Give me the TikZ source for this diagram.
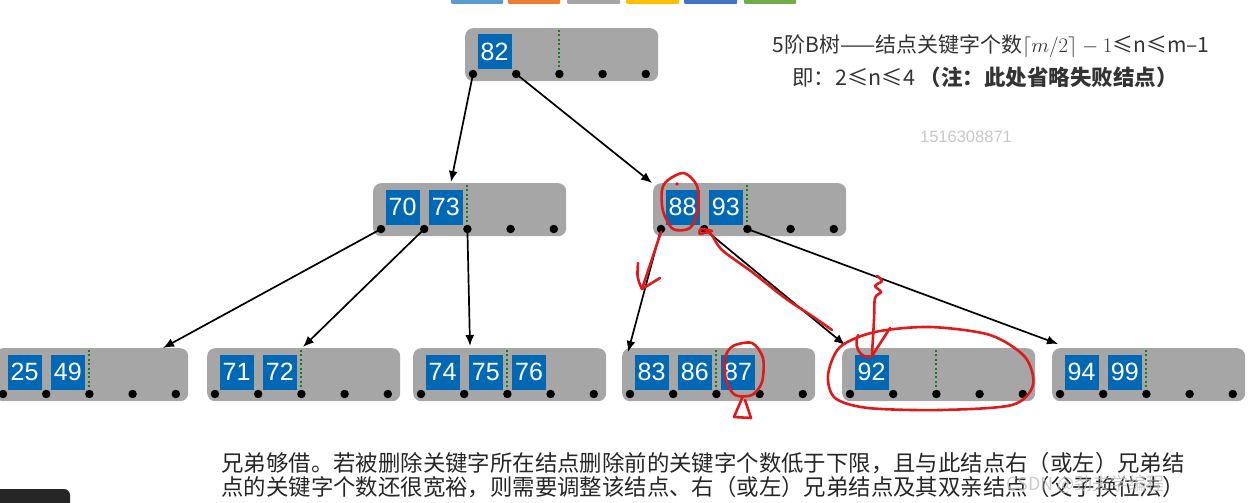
\documentclass[tikz,border=0pt]{standalone}
\usepackage{fontspec}
\usepackage{tikz}
\usetikzlibrary{positioning,arrows.meta,calc}
\newfontfamily\cjk{Noto Sans CJK SC}
\newfontfamily\keysf{Liberation Sans}
\definecolor{nodegray}{RGB}{166,166,166}
\definecolor{keyblue}{RGB}{0,104,180}
\definecolor{mingreen}{RGB}{20,128,20}
\definecolor{inkred}{RGB}{224,26,26}
\definecolor{textgrey}{RGB}{51,51,51}
\definecolor{wmgrey}{RGB}{200,200,200}
\definecolor{tabblue}{RGB}{91,155,213}
\definecolor{taborange}{RGB}{237,125,49}
\definecolor{tabgray}{RGB}{165,165,165}
\definecolor{tabgold}{RGB}{255,192,0}
\definecolor{tabnavy}{RGB}{68,114,196}
\definecolor{tabgreen}{RGB}{112,173,71}
\tikzset{
  gnode/.style ={rectangle, fill=nodegray, rounded corners=8pt, inner sep=0pt,
                 minimum width=193pt, minimum height=53pt},
  keybox/.style={rectangle, fill=keyblue, text=white, inner sep=0pt,
                 minimum width=34pt, minimum height=35pt,
                 font=\keysf\fontsize{25}{25}\selectfont},
  ptr/.style   ={circle, fill=black, inner sep=0pt, minimum size=8.5pt},
  mindiv/.style={draw=mingreen, line width=2pt, dash pattern=on 2pt off 2.4pt},
  ar/.style    ={-{Latex[length=11pt,width=9pt]}, line width=1.7pt},
  redpen/.style={draw=inkred, line width=2.6pt, line cap=round, line join=round},
  tab/.style   ={rounded corners=1pt},
}
% one B-tree node: name, left, top, keys
\newcommand{\btnode}[4]{%
  \node[gnode,anchor=north west] (#1) at (#2,#3) {};
  \draw[mindiv] ($(#1.north west)+(94.4,2)$) -- ($(#1.north west)+(94.4,46)$);
  \foreach \k [count=\i from 0] in {#4}
    \node[keybox] (#1-k\i) at ($(#1.north west)+({29.6+43.2*\i},24)$) {\k};
  \foreach \i in {0,...,4}
    \node[ptr] (#1-p\i) at ($(#1.north west)+({8+43.2*\i},46)$) {};
}
\begin{document}
\begin{tikzpicture}[x=1pt,y=-1pt]
\useasboundingbox (0,0) rectangle (1248,503);
\clip (0,0) rectangle (1248,503);

% colour tabs cut at the top
\fill[tab,tabblue]   (451,-3) rectangle (503,4);
\fill[tab,taborange] (508,-3) rectangle (560,4);
\fill[tab,tabgray]   (567,-3) rectangle (620,4);
\fill[tab,tabgold]   (626,-3) rectangle (679,4);
\fill[tab,tabnavy]   (684,-3) rectangle (737,4);
\fill[tab,tabgreen]  (744,-3) rectangle (796,4);

% the tree
\btnode{n82}{465}{28}{82}
\btnode{n7073}{373}{183}{70,73}
\btnode{n8893}{653}{183}{88,93}
\btnode{n2549}{-5}{348}{25,49}
\btnode{n7172}{207}{348}{71,72}
\btnode{n747576}{413}{348}{74,75,76}
\btnode{n838687}{622}{348}{83,86,87}
\btnode{n92}{842}{348}{92}
\btnode{n9499}{1052}{348}{94,99}

\coordinate (t7073) at ($(n7073.north west)+(78,-1)$);
\coordinate (t8893) at ($(n8893.north west)+(-1,0)$);
\coordinate (t2549) at ($(n2549.north west)+(168,0)$);
\coordinate (t7172) at ($(n7172.north west)+(96,-1)$);
\coordinate (t747576) at ($(n747576.north west)+(57,-2)$);
\coordinate (t838687) at ($(n838687.north west)+(6,4)$);
\coordinate (t92) at ($(n92.north west)+(3,-3)$);
\coordinate (t9499) at ($(n9499.north west)+(6,-4)$);

\draw[ar] (n82-p0.center) -- (t7073);
\draw[ar] (n82-p1.center) -- (t8893);
\draw[ar] (n7073-p0.center) -- (t2549);
\draw[ar] (n7073-p1.center) -- (t7172);
\draw[ar] (n7073-p2.center) -- (t747576);
\draw[ar] (n8893-p0.center) -- (t838687);
\draw[ar] (n8893-p1.center) -- (t92);
\draw[ar] (n8893-p2.center) -- (t9499);

% rule text
\node[text=textgrey,font=\cjk\fontsize{21}{21}\selectfont] (rule1) at (991,46)
  {5阶B树——结点关键字个数$\lceil m/2\rceil - 1$≤n≤m–1};
\node[text=textgrey,font=\cjk\fontsize{21.5}{21.5}\selectfont] (rule2) at (985,77)
  {即：2≤n≤4 \textbf{（注：此处省略失败结点）}};
\node[text=wmgrey,font=\keysf\fontsize{16.5}{16.5}\selectfont] (wm1) at (966,137) {1516308871};

% caption below
\node[anchor=west,text=black!85,font=\cjk\fontsize{22.4}{22.4}\selectfont] (cap1) at (218,463)
  {兄弟够借。若被删除关键字所在结点删除前的关键字个数低于下限，且与此结点右（或左）兄弟结};
\node[anchor=west,text=black!85,font=\cjk\fontsize{22.4}{22.4}\selectfont] (cap2) at (218,487)
  {点的关键字个数还很宽裕，则需要调整该结点、右（或左）兄弟结点及其双亲结点（父子换位法）};
\node[anchor=west,text=gray!50,opacity=0.8,font=\cjk\fontsize{18}{18}\selectfont] (wm2) at (1003,484)
  {CSDN @劲夫学编程};
\fill[black!85,rounded corners=6pt] (-8,489) rectangle (70,515);

% red pen marks
\draw[redpen] plot[smooth cycle] coordinates {(668,180) (684,173) (697,186) (698,210) (690,228) (673,229) (663,211) (662,190)};
\fill[inkred] (677,184) circle (1.8);
\draw[redpen] (661,232) -- (651,262) -- (642,289);
\draw[redpen] (638,263) .. controls (637,278) .. (642,289) -- (660,278);
\draw[redpen] plot[smooth] coordinates {(712,231) (701,229) (700,234) (710,233) (722,250) (752,272) (785,298) (812,316) (832,330)};
\draw[redpen] plot[smooth] coordinates {(877,276) (882,281) (875,286) (881,292) (875,298) (874,320) (872,354)};
\draw[redpen] (858,335) .. controls (852,352) and (866,360) .. (872,356) -- (890,328);
\draw[redpen] plot[smooth cycle] coordinates {(875,332) (930,327) (990,335) (1025,357) (1033,385) (1012,405) (940,410) (868,408) (835,398) (828,375) (840,347)};
\draw[redpen] plot[smooth cycle] coordinates {(733,346) (752,343) (763,358) (762,382) (752,395) (735,395) (726,380) (725,358)};
\draw[redpen] (743,396) -- (734,417) -- (751,418) -- (745,400);
\end{tikzpicture}
\end{document}
